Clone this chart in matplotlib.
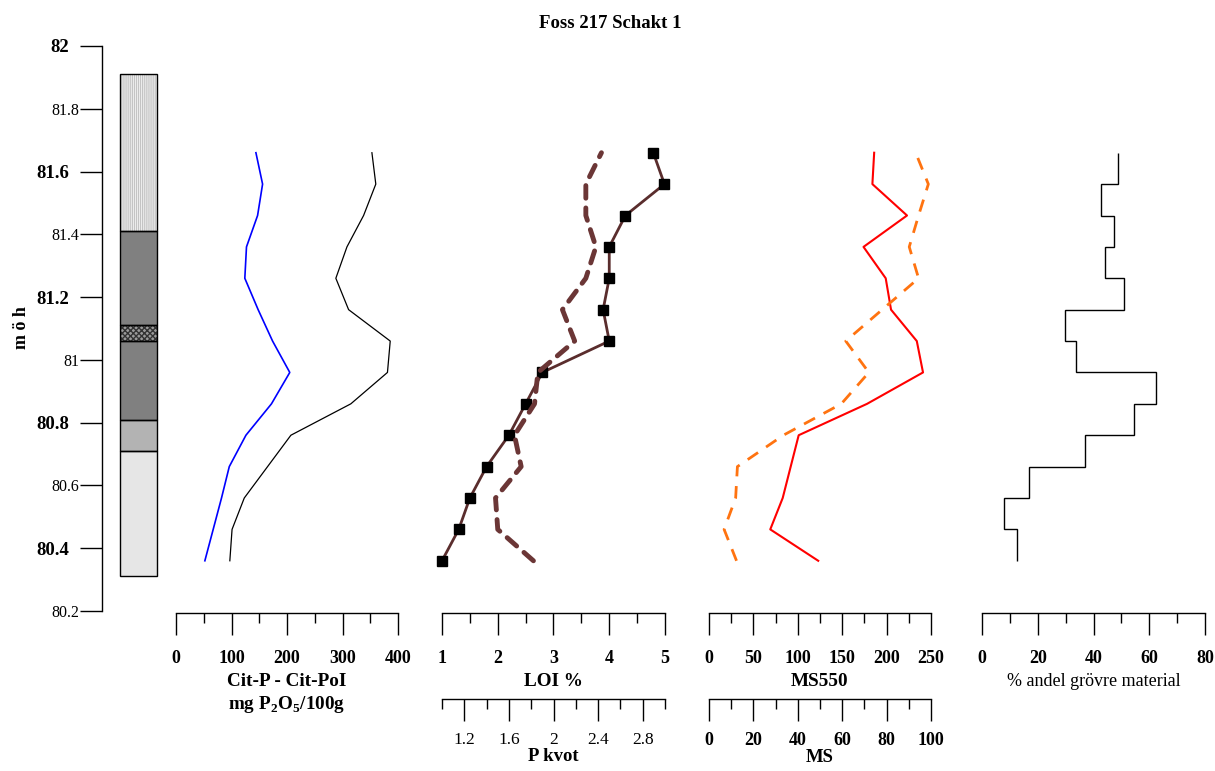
import numpy as np
import matplotlib
matplotlib.use("Agg")
import matplotlib.pyplot as plt
from matplotlib.ticker import MultipleLocator, FixedLocator

plt.rcParams['font.family'] = ['Liberation Serif', 'DejaVu Serif']
plt.rcParams['mathtext.fontset'] = 'custom'
plt.rcParams['mathtext.rm'] = 'Liberation Serif'
plt.rcParams['mathtext.bf'] = 'Liberation Serif:bold'

# sample levels (m o h)
depth = [80.36, 80.46, 80.56, 80.66, 80.76, 80.86, 80.96,
         81.06, 81.16, 81.26, 81.36, 81.46, 81.56, 81.66]

# Cit-P - Cit-PoI, mg P2O5/100g
cit_p = [52, 67, 82, 96, 126, 172, 205, 174, 148, 124, 127, 147, 156, 144]
cit_poi = [97, 101, 123, 165, 207, 315, 381, 386, 311, 288, 308, 338, 360, 353]

# LOI % and P kvot
loi = [1.0, 1.3, 1.5, 1.8, 2.2, 2.5, 2.8, 4.0, 3.89, 4.0, 4.0, 4.29, 4.99, 4.79]
p_kvot = [1.82, 1.50, 1.48, 1.71, 1.65, 1.83, 1.86, 2.19, 2.08, 2.29, 2.38, 2.29, 2.29, 2.43]
p_kvot_ticks = [1.2, 1.6, 2.0, 2.4, 2.8]
p_kvot_minor = [1.0, 1.4, 1.8, 2.2, 2.6, 3.0]

# MS550 and MS
ms550 = [123, 69, 83, 92, 101, 178, 241, 234, 205, 199, 174, 223, 184, 186]
ms = [12.4, 6.8, 12.0, 12.8, 33.5, 59.6, 72.0, 61.6, 78.0, 94.4, 90.2, 94.4, 98.8, 93.1]

# % andel grovre material, one value per interval between levels
grain = [12.4, 7.8, 17.0, 36.8, 54.4, 62.5, 33.8, 29.8, 51.1, 44.2, 47.4, 42.7, 48.7]

# lithology column
litho_bottom = [80.31, 80.71, 80.81, 81.06, 81.11, 81.41]
litho_top = [80.71, 80.81, 81.06, 81.11, 81.41, 81.91]
litho_face = ['#e6e6e6', '#b3b3b3', '#808080', '#9a9a9a', '#808080', 'white']
litho_hatch = [None, None, None, 'xxxxxx', None, '||||||||']
litho_hatch_col = ['none', 'none', 'none', '#333333', 'none', '#c4c4c4']

W, H = 1215, 771
fig = plt.figure(figsize=(W / 100, H / 100), dpi=100)


def box(x0, y0, x1, y1):
    return [x0 / W, 1 - y1 / H, (x1 - x0) / W, (y1 - y0) / H]


Y_TOP, Y_BOT = 46, 611
ylims = (80.2, 82.0)

fig.text(0.502, 1 - 23 / H, 'Foss 217 Schakt 1', ha='center', va='center',
         fontsize=13.5, fontweight='bold')

# depth axis + lithology
ax0 = fig.add_axes(box(102, Y_TOP, 170, Y_BOT))
ax0.set_ylim(*ylims)
ax0.set_xlim(0, 68)
for s in ['top', 'right', 'bottom']:
    ax0.spines[s].set_visible(False)
ax0.spines['left'].set_linewidth(1.0)
ax0.set_xticks([])
yt = np.round(np.arange(80.2, 82.01, 0.2), 1)
ax0.set_yticks(yt)
ax0.set_yticklabels([f'{v:g}' for v in yt])
ax0.tick_params(axis='y', length=15.8, width=1.0)
for i, (tk_, lab) in enumerate(zip(ax0.yaxis.get_major_ticks(), ax0.get_yticklabels())):
    if i % 2 == 0:
        lab.set_fontsize(11.5)
        tk_.set_pad(0.5)
    else:
        lab.set_fontsize(13.5)
        lab.set_fontweight('bold')
        tk_.set_pad(8)

heights = np.array(litho_top) - np.array(litho_bottom)
for b, h, fc, ht, hc in zip(litho_bottom, heights, litho_face, litho_hatch, litho_hatch_col):
    ax0.bar(36.5, h, bottom=b, width=37, color=fc, hatch=ht, edgecolor=hc, linewidth=0)
ax0.bar([36.5] * len(heights), heights, bottom=litho_bottom, width=37,
        fill=False, edgecolor='black', linewidth=1.0)

fig.text(22 / W, 1 - 328 / H, 'm ö h', rotation=90, ha='center', va='center',
         fontsize=13, fontweight='bold')


def panel(x0, x1, xlim):
    ax = fig.add_axes(box(x0, Y_TOP, x1, Y_BOT))
    ax.set_xlim(*xlim)
    ax.set_ylim(*ylims)
    ax.axis('off')
    return ax


def scale(x0, x1, xlim, major, minor, label, y, bold=True, labsize=13,
          lab_bold=True, pad=11, labelpad=4, labfont=13.8):
    ax = fig.add_axes(box(x0, y - 1, x1, y))
    ax.set_xlim(*xlim)
    ax.patch.set_visible(False)
    for s in ['top', 'left', 'right']:
        ax.spines[s].set_visible(False)
    ax.spines['bottom'].set_linewidth(1.0)
    ax.set_yticks([])
    ax.xaxis.set_major_locator(major)
    ax.xaxis.set_minor_locator(minor)
    ax.tick_params(axis='x', which='major', length=15.8, width=1.0, pad=pad,
                   labelsize=labsize)
    ax.tick_params(axis='x', which='minor', length=7.5, width=1.0)
    for lab in ax.get_xticklabels():
        lab.set_fontweight('bold' if bold else 'normal')
    ax.set_xlabel(label, fontsize=labfont, fontweight='bold' if lab_bold else 'normal',
                  labelpad=labelpad, linespacing=1.25)
    return ax


# Cit-P panel
axp = panel(176, 398, (0, 400))
axp.plot(cit_p, depth, color='blue', lw=1.2)
axp.plot(cit_poi, depth, color='black', lw=0.9)
scale(176, 398, (0, 400), MultipleLocator(100), MultipleLocator(50),
      'Cit-P - Cit-PoI\nmg P$_\\mathbf{2}$O$_\\mathbf{5}$/100g', 613)

# LOI panel
axl = panel(442, 665, (1, 5))
axl.plot(loi, depth, color='#5a2d2d', lw=2, marker='s', ms=7.5,
         mfc='black', mec='black', clip_on=False)
axk = panel(442, 665, (1, 3))
axk.plot(p_kvot, depth, color='#6b3636', lw=3.5, dashes=(2.6, 2.0),
         dash_capstyle='round', clip_on=False)
scale(442, 665, (1, 5), MultipleLocator(1), MultipleLocator(0.5), 'LOI %', 613)
sk = scale(442, 665, (1, 3), FixedLocator(p_kvot_ticks), FixedLocator(p_kvot_minor),
           'P kvot', 699, bold=False, labsize=12.5, pad=8, labelpad=0, labfont=13.5)
sk.set_xticklabels([f'{v:g}' for v in p_kvot_ticks])

# MS panel
axm = panel(709, 931, (0, 250))
axm.plot(ms550, depth, color='red', lw=1.5, clip_on=False)
axs = panel(709, 931, (0, 100))
axs.plot(ms, depth, color='#ff7310', lw=2, dashes=(4.5, 3.5), clip_on=False)
scale(709, 931, (0, 250), MultipleLocator(50), MultipleLocator(25), 'MS550', 613)
scale(709, 931, (0, 100), MultipleLocator(20), MultipleLocator(10), 'MS', 699,
      pad=8, labelpad=0, labfont=13.5)

# grain size panel
axg = panel(982, 1205, (0, 80))
axg.stairs(grain, depth, orientation='horizontal', baseline=None,
           color='black', lw=1.0)
scale(982, 1205, (0, 80), MultipleLocator(20), MultipleLocator(10),
      '% andel grövre material', 613, lab_bold=False, labfont=13)

fig.savefig('out.png', dpi=100)
